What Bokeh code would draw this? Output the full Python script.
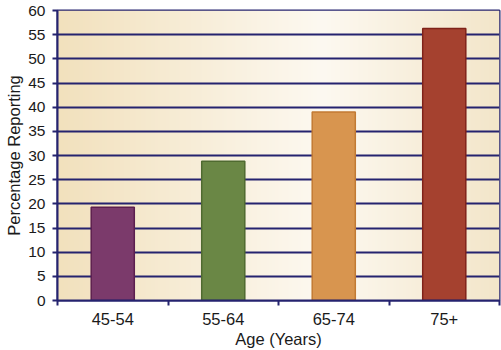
import numpy as np
from bokeh.plotting import figure
from bokeh.models import FixedTicker, ColumnDataSource
from bokeh.embed import file_html
from bokeh.resources import INLINE

categories = ["45-54", "55-64", "65-74", "75+"]
values = [19.3, 28.8, 39.0, 56.3]
fill_colors = ["#7b3a6b", "#6a8745", "#d8954f", "#a5412f"]
line_colors = ["#5c1f4f", "#4f6a30", "#c27a33", "#7f2219"]
y_ticks = list(range(0, 61, 5))

NAVY = "#25236f"
FONT = "Liberation Sans"

n = len(categories)
centers = [i + 0.5 for i in range(n)]
src = ColumnDataSource(dict(x=centers, top=values, fill=fill_colors, line=line_colors, cat=categories))

p = figure(width=501, height=350, x_range=(0, n), y_range=(0, 60),
           output_backend="svg", toolbar_location=None,
           min_border_left=57, min_border_right=2, min_border_top=10, min_border_bottom=49)

# background gradient
N = 300
t = np.linspace(0, 1, N)
stops_t = [0.0, 0.6, 1.0]
r = np.interp(t, stops_t, [242, 253, 243])
g = np.interp(t, stops_t, [225, 249, 230])
b = np.interp(t, stops_t, [189, 241, 202])
img = np.empty((2, N), dtype=np.uint32)
view = img.view(dtype=np.uint8).reshape((2, N, 4))
for row in range(2):
    view[row, :, 0] = r.astype(np.uint8)
    view[row, :, 1] = g.astype(np.uint8)
    view[row, :, 2] = b.astype(np.uint8)
    view[row, :, 3] = 255
bg = p.image_rgba(image=[img], x=0, y=0, dw=n, dh=60)
bg.level = "image"

p.vbar(x="x", top="top", width=0.39, bottom=0, source=src,
       fill_color="fill", line_color="line", line_width=1.5)

p.background_fill_color = "#fbf5ea"
p.border_fill_color = "white"
p.outline_line_color = NAVY
p.outline_line_width = 2

p.xgrid.visible = False
p.ygrid.ticker = FixedTicker(ticks=y_ticks)
p.ygrid.grid_line_color = NAVY
p.ygrid.grid_line_width = 2

xa = p.xaxis[0]
xa.ticker = FixedTicker(ticks=centers, minor_ticks=list(range(n + 1)))
xa.major_label_overrides = {c: lab for c, lab in zip(centers, categories)}
xa.major_tick_line_color = None
xa.minor_tick_line_color = NAVY
xa.minor_tick_line_width = 2
xa.minor_tick_out = 5
xa.minor_tick_in = 0
xa.axis_line_color = NAVY
xa.axis_line_width = 2
xa.axis_label = "Age (Years)"
xa.major_label_standoff = 6
xa.axis_label_standoff = 2
xa.major_label_text_font_size = "16.5px"

ya = p.yaxis[0]
ya.ticker = FixedTicker(ticks=y_ticks)
ya.major_tick_line_color = NAVY
ya.major_tick_line_width = 2
ya.major_tick_out = 5
ya.major_tick_in = 0
ya.minor_tick_line_color = None
ya.axis_line_color = NAVY
ya.axis_line_width = 2
ya.axis_label = "Percentage Reporting"
ya.major_label_standoff = 7
ya.axis_label_standoff = 2
ya.major_label_text_font_size = "15.5px"

for ax in (xa, ya):
    ax.major_label_text_font = FONT
    ax.major_label_text_color = "#1a1a1a"
    ax.axis_label_text_font = FONT
    ax.axis_label_text_font_size = "16.5px"
    ax.axis_label_text_font_style = "normal"
    ax.axis_label_text_color = "#1a1a1a"

open("out.html", "w").write(file_html(p, INLINE))
